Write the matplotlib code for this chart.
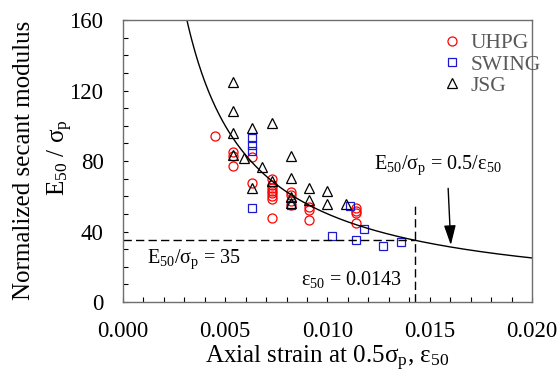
import numpy as np
import matplotlib.pyplot as plt
from matplotlib.ticker import MultipleLocator

plt.rcParams['font.family'] = ['Liberation Serif', 'DejaVu Serif']
plt.rcParams['mathtext.default'] = 'regular'

# measured points: axial strain at 0.5 sigma_p vs normalized secant modulus
uhpg_x = [0.0045, 0.0054, 0.0054, 0.0054, 0.0063, 0.0063,
          0.0073, 0.0073, 0.0073, 0.0073, 0.0073, 0.0073, 0.0073, 0.0073,
          0.0082, 0.0082, 0.0082, 0.0082, 0.0091, 0.0091, 0.0091,
          0.0114, 0.0114, 0.0114, 0.0114]
uhpg_y = [94.4, 84.9, 83.0, 77.2, 82.3, 67.3,
          69.6, 66.4, 64.5, 63.1, 61.7, 60.1, 58.3, 47.5,
          62.6, 60.7, 57.5, 55.0, 54.1, 52.2, 46.4,
          53.5, 51.8, 50.3, 44.7]

swing_x = [0.0063, 0.0063, 0.0063, 0.0063, 0.0082, 0.0102,
           0.0111, 0.0114, 0.0118, 0.0127, 0.0136]
swing_y = [92.8, 89.3, 85.8, 53.5, 55.2, 37.6,
           54.3, 35.1, 41.5, 31.8, 33.9]

jsg_x = [0.0054, 0.0054, 0.0054, 0.0054, 0.0059, 0.0063, 0.0063,
         0.0068, 0.0073, 0.0073, 0.0082, 0.0082, 0.0082, 0.0082,
         0.0091, 0.0091, 0.0100, 0.0100, 0.0109]
jsg_y = [124.7, 108.4, 96.1, 83.4, 81.7, 98.7, 64.5,
         76.8, 101.8, 68.5, 83.1, 70.1, 59.7, 56.0,
         64.7, 57.9, 63.1, 55.8, 55.5]

coef = 0.5        # E50/sp = coef / eps50
e_lim = 35        # lower bound of modulus
eps_lim = 0.0143  # strain where the curve reaches e_lim
vline_top = 57

fig = plt.figure(figsize=(5.58, 3.76), dpi=100)
ax = fig.add_axes([0.2204, 0.1968, 0.733, 0.75])

ax.plot(uhpg_x, uhpg_y, 'o', ms=6.5, mfc='none', mec='#ff0000', mew=0.9, label='UHPG')
ax.plot(swing_x, swing_y, 's', ms=6.2, mfc='none', mec='#1a1acc', mew=0.9, label='SWING')
ax.plot(jsg_x, jsg_y, '^', ms=6.5, mfc='none', mec='k', mew=0.9, label='JSG')

xc = np.linspace(coef / 160, 0.02, 300)
ax.plot(xc, coef / xc, color='k', lw=1.0)

ax.plot([0, eps_lim], [e_lim, e_lim], color='k', lw=1.0, ls=(0, (6, 3)))
ax.plot([eps_lim, eps_lim], [0, vline_top], color='k', lw=1.0, ls=(0, (6, 3)))

ax.annotate('', xy=(0.01603, 32.3), xytext=(0.0159, 64.5),
            arrowprops=dict(arrowstyle='-|>,head_length=1.0,head_width=0.3',
                            color='k', lw=1.0, shrinkA=0, shrinkB=0,
                            mutation_scale=12))
ax.text(0.0154, 77.7, 'E$_{50}$/σ$_{p}$ = 0.5/ε$_{50}$', fontsize=14.5,
        ha='center', va='center')
ax.text(0.00115, 24.4, 'E$_{50}$/σ$_{p}$ = 35', fontsize=14.5,
        ha='left', va='center')
ax.text(0.01363, 13, 'ε$_{50}$ = 0.0143', fontsize=14.5,
        ha='right', va='center')

ax.set_xlim(0, 0.02)
ax.set_ylim(0, 160)
ax.xaxis.set_major_locator(MultipleLocator(0.005))
ax.xaxis.set_minor_locator(MultipleLocator(0.001))
ax.yaxis.set_major_locator(MultipleLocator(40))
ax.yaxis.set_minor_locator(MultipleLocator(10))
ax.xaxis.set_major_formatter(lambda v, p: '%.3f' % v)
ax.tick_params(which='both', direction='in', length=3.5, width=0.8,
               labelsize=16.5, top=False, right=False)
ax.tick_params(axis='x', pad=14)
ax.tick_params(axis='y', pad=14)
for s in ax.spines.values():
    s.set_color('#6e6e6e')
    s.set_linewidth(1.0)

ax.set_xlabel('Axial strain at 0.5σ$_{p}$, ε$_{50}$', fontsize=18, labelpad=1)
ax.text(-0.243, 0.502, 'Normalized secant modulus', fontsize=18,
        rotation=90, ha='center', va='center', transform=ax.transAxes)
ax.text(-0.154, 0.512, 'E$_{50}$ / σ$_{p}$', fontsize=18,
        rotation=90, ha='center', va='center', transform=ax.transAxes)

leg = ax.legend(loc='upper left', bbox_to_anchor=(0.779, 0.968), frameon=False,
                fontsize=15.5, handlelength=0.6, handletextpad=0.55,
                labelspacing=0.05, borderpad=0.2, borderaxespad=0)
for t in leg.get_texts():
    t.set_color('#595959')

fig.savefig('out.png', dpi=100)
